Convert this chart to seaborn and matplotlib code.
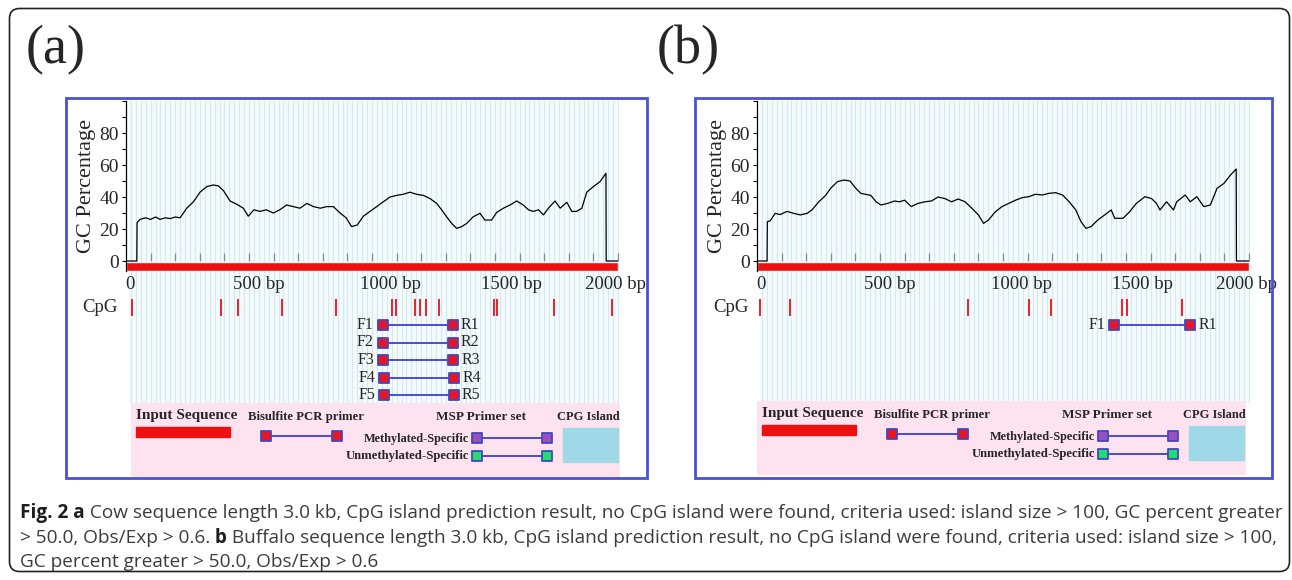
import matplotlib
matplotlib.use("Agg")
import matplotlib.pyplot as plt
import matplotlib.transforms as mtransforms
from matplotlib.patches import Rectangle, FancyBboxPatch
import numpy as np
import pandas as pd
import seaborn as sns

sns.set_theme(style="white")
SERIF = ['Liberation Serif', 'DejaVu Serif']
CAPFONT = ['Open Sans', 'DejaVu Sans']
plt.rcParams['font.family'] = SERIF

# ---------------- data ----------------
SEQ_LEN = 2000
cow_profile = [(0, 0), (44, 0), (45, 24), (57, 26), (80, 27), (100, 26), (120, 27.5), (138, 26),
               (160, 27), (180, 26.5), (200, 27.5), (220, 27), (247, 33), (274, 37), (301, 43),
               (328, 46.5), (355, 47.5), (375, 47), (396, 44), (423, 37.5), (450, 35.5), (477, 33),
               (497, 28), (520, 32), (545, 31), (570, 32), (599, 30), (625, 32), (653, 35), (680, 34),
               (707, 33), (735, 36), (762, 34), (790, 33), (816, 34), (843, 34), (870, 30), (895, 27),
               (917, 21.5), (940, 22.5), (965, 28), (992, 31), (1019, 34), (1046, 37), (1073, 40),
               (1100, 41), (1127, 41.7), (1154, 43), (1181, 41.7), (1209, 41), (1236, 39), (1263, 36),
               (1283, 32), (1303, 27.7), (1324, 23.5), (1344, 20.4), (1365, 21.5), (1385, 23.5),
               (1412, 27.7), (1439, 29.8), (1459, 25.6), (1486, 25.6), (1507, 30.4), (1534, 33),
               (1561, 35), (1588, 37.5), (1615, 35), (1636, 32), (1656, 31), (1677, 32), (1697, 28.8),
               (1717, 33), (1744, 37.5), (1765, 33), (1792, 36.7), (1812, 31), (1832, 31), (1853, 33),
               (1873, 43), (1900, 46.5), (1927, 49.6), (1951, 54.8), (1952, 0), (2000, 0)]
buffalo_profile = [(0, 0), (41, 0), (42, 24.6), (53, 25), (74, 29.8), (94, 29), (122, 31), (149, 29.8),
                   (176, 28.8), (204, 29.8), (224, 32), (251, 37), (279, 41), (299, 45.4), (327, 49.6),
                   (354, 50.6), (378, 50), (402, 45.4), (422, 42.3), (463, 41), (484, 37), (504, 35),
                   (531, 36), (559, 37.5), (579, 37), (600, 38), (627, 34), (654, 36), (682, 37),
                   (709, 37.5), (736, 40), (764, 39), (791, 37), (818, 38.75), (846, 37), (873, 33),
                   (900, 28.8), (921, 23.5), (941, 25.6), (969, 30.8), (996, 34), (1023, 36), (1051, 38),
                   (1078, 39.6), (1105, 40.2), (1132, 41.7), (1160, 41.25), (1187, 42.3), (1214, 42.7),
                   (1242, 41.25), (1269, 37), (1296, 31.9), (1317, 24.6), (1337, 20.4), (1358, 21.5),
                   (1385, 25.6), (1413, 28.75), (1440, 31.9), (1454, 26.7), (1488, 26.7), (1515, 30.8),
                   (1542, 36), (1577, 40.2), (1604, 39), (1624, 36), (1638, 31.9), (1665, 37),
                   (1693, 31.9), (1706, 37), (1741, 41.25), (1761, 37), (1788, 40.2), (1816, 34),
                   (1843, 35), (1870, 45.4), (1898, 48.5), (1925, 53.75), (1948, 57.5), (1949, 0),
                   (2000, 0)]
cow_cpg = [25, 387, 457, 635, 854, 1080, 1098, 1175, 1196, 1220, 1273, 1495, 1510, 1738, 1976]
buffalo_cpg = [14, 133, 857, 1105, 1196, 1485, 1503, 1728]
cow_fwd = [1043, 1043, 1045, 1049, 1049]
cow_rev = [1329, 1329, 1331, 1335, 1333]
cow_primer_ids = ['1', '2', '3', '4', '5']
buffalo_fwd = [1453]
buffalo_rev = [1761]
buffalo_primer_ids = ['1']
gc_tick_values = [0, 20, 40, 60, 80]
bp_tick_values = [0, 500, 1000, 1500, 2000]
bp_tick_labels = ['0', '500 bp', '1000 bp', '1500 bp', '2000 bp']
panel_letters = ['(a)', '(b)']
legend_titles = ['Input Sequence', 'Bisulfite PCR primer', 'MSP Primer set', 'CPG Island']
msp_labels = ['Methylated-Specific', 'Unmethylated-Specific']
caption_runs = [
    [("Fig. 2 a", 'bold'),
     (" Cow sequence length 3.0 kb, CpG island prediction result, no CpG island were found, "
      "criteria used: island size > 100, GC percent greater", 'normal')],
    [("> 50.0, Obs/Exp > 0.6.", 'normal'), (" b", 'bold'),
     (" Buffalo sequence length 3.0 kb, CpG island prediction result, no CpG island were found, "
      "criteria used: island size > 100,", 'normal')],
    [("GC percent greater > 50.0, Obs/Exp > 0.6", 'normal')],
]

# ---------------- style ----------------
BORDER = '#4c4fd8'
RED = '#ee0f0f'
CPG_RED = '#e8232b'
STRIPE_BG = '#f5fbfc'
STRIPE = '#d3ebf0'
PINK = '#fde2f0'
LINE_BLUE = '#3c3fd4'
EDGE_BLUE = '#4446c4'
PRIMER_RED = '#e81620'
METH = '#9850bd'
UNMETH = '#22dc72'
ISLAND = '#9fd8e7'
BP_LABEL_SHIFT = [-1, -16, -12, -14, -33]

W, H = 1292, 580
fig = plt.figure(figsize=(W / 100, H / 100), dpi=100)
fig.patch.set_facecolor('white')
PIX = mtransforms.IdentityTransform()


def fig_px(l, t, r, b):
    return [l / W, 1 - b / H, (r - l) / W, (b - t) / H]


def rect_px(l, t, r, b, **kw):
    p = Rectangle((l, H - b), r - l, b - t, transform=PIX, **kw)
    fig.add_artist(p)
    return p


def squares(ax, xs, ys, fill):
    sns.scatterplot(x=xs, y=ys, ax=ax, marker='s', s=58, color=fill,
                    edgecolor=EDGE_BLUE, linewidth=1.3, zorder=3, legend=False)


def draw_panel(dx, box, letter, profile, cpg, fwd, rev, ids, leg_origin):
    l, t, r, b = box
    rect_px(l, t, r, b, fill=False, ec=BORDER, lw=2.0, zorder=6)
    fig.text((26 + dx) / W, 1 - 50 / H, letter, fontsize=39, ha='left', va='center')

    # striped background
    bg = fig.add_axes(fig_px(129 + dx, 101, 619 + dx, 403), zorder=0)
    bg.set_facecolor(STRIPE_BG)
    bg.set_xlim(12, 2004)
    bg.set_ylim(0, 1)
    bg.set_xticks(np.arange(20, 2001, 20))
    bg.set_yticks([])
    bg.grid(True, axis='x', color=STRIPE, lw=0.9)
    bg.tick_params(length=0, labelbottom=False, labelleft=False)
    for s in bg.spines.values():
        s.set_visible(False)

    # GC content plot
    ax = fig.add_axes(fig_px(126 + dx, 101, 618 + dx, 270.6), zorder=2)
    ax.patch.set_alpha(0)
    df = pd.DataFrame(profile, columns=['bp', 'gc'])
    ax.barh(y=-3.3, width=SEQ_LEN, height=5.4, left=0, color=RED, zorder=1)
    sns.lineplot(data=df, x='bp', y='gc', ax=ax, color='black', linewidth=0.9, zorder=3)
    ax.set_xlim(0, SEQ_LEN)
    ax.set_ylim(-6, 100)
    ax.set_xlabel('')
    ax.set_ylabel('')
    ax.text(-0.0803, 0.5, 'GC Percentage', rotation=90, ha='center', va='center',
            transform=ax.transAxes, fontsize=16)
    ax.set_yticks(gc_tick_values + [100])
    ax.set_yticklabels([str(v) for v in gc_tick_values] + [''])
    ax.set_yticks([10, 30, 50, 70, 90], minor=True)
    ax.tick_params(axis='y', which='both', direction='out', length=3, width=0.8,
                   color='black', pad=2, labelsize=14, left=True)
    ax.set_xticks(np.arange(100, SEQ_LEN + 1, 100))
    ax.tick_params(axis='x', direction='in', length=5.8, width=0.9, color='#8a8a8a',
                   labelbottom=False, bottom=True)
    ax.spines['bottom'].set_position(('data', 0))
    ax.spines['bottom'].set_visible(False)
    ax.spines['top'].set_visible(False)
    ax.spines['right'].set_visible(False)
    ax.spines['left'].set_color('black')
    ax.spines['left'].set_linewidth(0.9)
    for v, lab, off in zip(bp_tick_values, bp_tick_labels, BP_LABEL_SHIFT):
        ax.annotate(lab, xy=(v, 0), xycoords=('data', 'axes fraction'), xytext=(off, -13.5),
                    textcoords='offset pixels', ha='left', va='center', fontsize=13.5,
                    annotation_clip=False)

    # CpG and primer tracks
    tr = fig.add_axes(fig_px(126 + dx, 290, 618 + dx, 403.75), zorder=3)
    tr.set_axis_off()
    tr.vlines(cpg, 0.52, 1.48, color=CPG_RED, lw=1.4)
    tr.annotate('CpG', xy=(0, 1), xytext=(-8, 0), textcoords='offset pixels',
                ha='right', va='center', fontsize=13.5, annotation_clip=False)
    for i, (f, rv, pid) in enumerate(zip(fwd, rev, ids)):
        y = 2 + i
        tr.plot([f, rv], [y, y], color=LINE_BLUE, lw=1.3, zorder=1)
        squares(tr, [f, rv], [y, y], PRIMER_RED)
        tr.annotate('F' + pid, xy=(f, y), xytext=(-9, 0), textcoords='offset pixels',
                    ha='right', va='center', fontsize=11.5, annotation_clip=False)
        tr.annotate('R' + pid, xy=(rv, y), xytext=(8, 0), textcoords='offset pixels',
                    ha='left', va='center', fontsize=11.5, annotation_clip=False)
    tr.set_xlim(0, SEQ_LEN)
    tr.set_ylim(6.5, 0)

    # legend box
    lx, ly = leg_origin
    lg = fig.add_axes(fig_px(lx, ly, lx + 489, ly + 74), zorder=4)
    lg.set_axis_off()
    lg.add_patch(Rectangle((0, 0), 489, 74, color=PINK, zorder=0))
    bold = dict(fontweight='bold', va='center', ha='left')
    lg.text(4.5, 13, legend_titles[0], fontsize=11, **bold)
    lg.add_patch(Rectangle((4.5, 24), 94.5, 10, color=RED, zorder=1))
    lg.text(117, 14, legend_titles[1], fontsize=9.2, **bold)
    lg.plot([135, 206], [33, 33], color=LINE_BLUE, lw=1.3, zorder=1)
    squares(lg, [135, 206], [33, 33], PRIMER_RED)
    lg.text(304.5, 14, legend_titles[2], fontsize=9.5, **bold)
    lg.text(426, 14, legend_titles[3], fontsize=9.0, **bold)
    lg.add_patch(Rectangle((432, 25), 54.5, 34, color=ISLAND, zorder=1))
    lg.text(338, 36, msp_labels[0], fontsize=8.8, fontweight='bold', va='center', ha='right')
    lg.text(338, 53, msp_labels[1], fontsize=9.2, fontweight='bold', va='center', ha='right')
    lg.plot([346, 415.6], [35, 35], color=LINE_BLUE, lw=1.3, zorder=1)
    lg.plot([346, 415.6], [53, 53], color=LINE_BLUE, lw=1.3, zorder=1)
    squares(lg, [346, 415.6], [35, 35], METH)
    squares(lg, [346, 415.6], [53, 53], UNMETH)
    lg.set_xlim(0, 489)
    lg.set_ylim(74, 0)


draw_panel(0, (66, 98, 647, 478), panel_letters[0], cow_profile, cow_cpg,
           cow_fwd, cow_rev, cow_primer_ids, (131, 403))
draw_panel(631, (695, 98, 1272, 478), panel_letters[1], buffalo_profile, buffalo_cpg,
           buffalo_fwd, buffalo_rev, buffalo_primer_ids, (757, 401))

# outer frame
frame = FancyBboxPatch((9.5, H - 571.5), 1280, 563, boxstyle='round,pad=0,rounding_size=10',
                       transform=PIX, fill=False, ec='#222222', lw=1.2, zorder=7)
fig.add_artist(frame)

# caption
renderer = fig.canvas.get_renderer()


def measure(s, w, fs):
    t = fig.text(0, 0, s, fontsize=fs, fontweight=w, family=CAPFONT)
    wd = t.get_window_extent(renderer).width
    t.remove()
    return wd


base = 12.0
w0 = sum(measure(s, w, base) for s, w in caption_runs[0])
cap_fs = base * 1257 / w0
baselines = [518, 543, 567]
for runs, yb in zip(caption_runs, baselines):
    x = 20
    for s, w in runs:
        t = fig.text(x / W, 1 - yb / H, s, fontsize=cap_fs, fontweight=w, family=CAPFONT,
                     color='#1e1e1e' if w == 'bold' else '#3c3c3c', ha='left', va='baseline')
        x += t.get_window_extent(renderer).width

fig.savefig('out.png', dpi=100)
